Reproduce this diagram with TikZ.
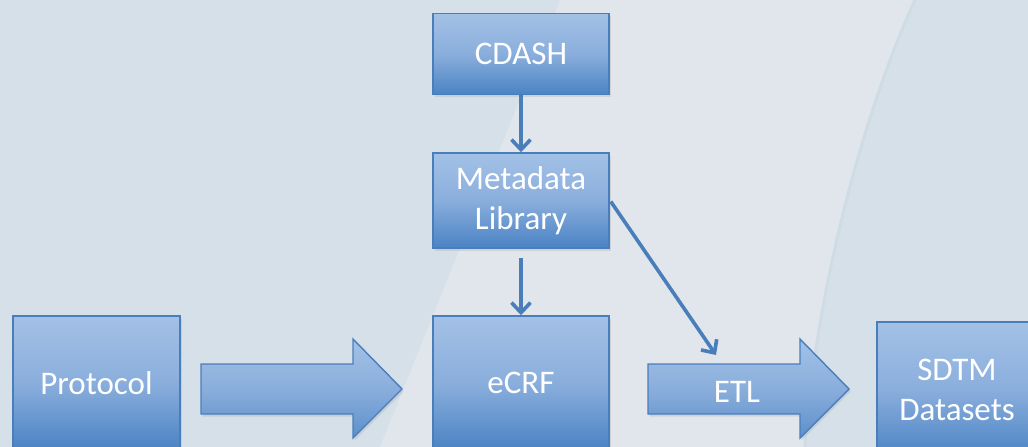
\documentclass[tikz,border=0pt]{standalone}
\usepackage{fontspec}
\setmainfont{Carlito}
\usetikzlibrary{arrows.meta,shadows}
\definecolor{bgA}{HTML}{D6E0E9}
\definecolor{bgB}{HTML}{E0E6EB}
\definecolor{bgC}{HTML}{CFDCE6}
\definecolor{boxTop}{HTML}{A3C1E6}
\definecolor{boxMid}{HTML}{8AAEDC}
\definecolor{boxBot}{HTML}{4A83C4}
\definecolor{edge}{HTML}{4A7EBB}
\tikzset{
  shade/.style={drop shadow={opacity=0.18, shadow xshift=1.5pt, shadow yshift=-2.5pt}},
  box/.style={draw=edge, line width=1.5pt, top color=boxTop, bottom color=boxBot, middle color=boxMid,
    text=white, font=\fontsize{33}{40}\selectfont, align=center, inner sep=0pt, shade},
  conn/.style={draw=edge, line width=3.6pt, -{Straight Barb[length=10pt,width=19pt,line width=3.6pt]}},
  blockarrow/.style={draw=edge, line width=1.4pt, top color=boxTop, bottom color=boxBot!80!boxTop, middle color=boxMid, shade},
  lbl/.style={text=white, font=\fontsize{33}{40}\selectfont, inner sep=0pt}
}
\begin{document}
\begin{tikzpicture}[x=1pt,y=-1pt]
\useasboundingbox (0,0) rectangle (1028,447);
\clip (0,0) rectangle (1028,447);
% background
\fill[bgA] (0,0) rectangle (1028,447);
\fill[bgB] (560,0) -- (915,0) .. controls (860,120) and (815,300) .. (805,447) -- (380,447) -- cycle;
\draw[bgC, line width=3pt] (915,0) .. controls (860,120) and (815,300) .. (805,447);
% boxes
\node[box, minimum width=176pt, minimum height=81pt] (cdash) at (521,54) {CDASH};
\node[box, minimum width=176pt, minimum height=95pt] (meta) at (521,200.5) {Metadata\\Library};
\node[box, minimum width=176pt, minimum height=134pt] (ecrf) at (521,383) {eCRF};
\node[box, minimum width=167pt, minimum height=134pt] (prot) at (96.5,383) {Protocol};
\node[box, minimum width=160pt, minimum height=136pt] (sdtm) at (957,390) {SDTM\\Datasets};
% block arrows
\path[blockarrow] (201,364) -- (353,364) -- (353,339) -- (402,389) -- (353,438) -- (353,414) -- (201,414) -- cycle;
\path[blockarrow] (648,364) -- (800,364) -- (800,339) -- (849,389) -- (800,438) -- (800,414) -- (648,414) -- cycle;
\node[lbl] (etl) at (737,392) {ETL};
% connectors
\coordinate (etlin) at (716,355);
\draw[conn] (cdash.south) -- (meta.north);
\draw[conn, shorten <=9pt] (meta.south) -- (ecrf.north);
\draw[conn] (meta.east) ++(1,1) -- (etlin);
\end{tikzpicture}
\end{document}
